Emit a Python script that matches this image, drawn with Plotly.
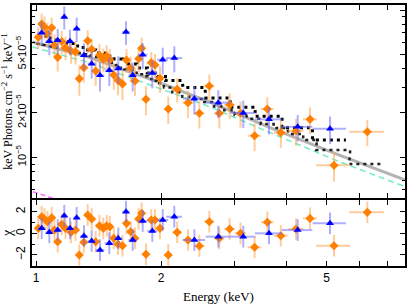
import numpy as np
import plotly.graph_objects as go
from plotly.subplots import make_subplots

# Spectrum data (flux in units of 1e-5 keV Photons cm^-2 s^-1 keV^-1)
orange_e = [1.0128, 1.0321, 1.0482, 1.0658, 1.0909, 1.1079, 1.1278, 1.1530, 1.1776, 1.2140,
            1.2447, 1.2712, 1.3032, 1.3317, 1.3615, 1.3920, 1.4216, 1.4518, 1.4794, 1.5050,
            1.5388, 1.5750, 1.6148, 1.6510, 1.6899, 1.7302, 1.7661, 1.7958, 1.8390, 1.8938,
            1.9330, 1.9873, 2.0808, 2.1861, 2.3218, 2.4717, 2.6121, 2.7609, 2.9235, 3.1049,
            3.3574, 3.6022, 3.8821, 4.2240, 4.5634, 5.2123, 6.2689]
orange_de = [0.0095, 0.0091, 0.0087, 0.0100, 0.0103, 0.0092, 0.0112, 0.0128, 0.0150, 0.0168,
             0.0138, 0.0141, 0.0152, 0.0148, 0.0151, 0.0154, 0.0150, 0.0137, 0.0131, 0.0150,
             0.0179, 0.0192, 0.0197, 0.0192, 0.0197, 0.0192, 0.0157, 0.0179, 0.0234, 0.0241,
             0.0236, 0.0385, 0.0484, 0.0581, 0.0720, 0.0726, 0.0724, 0.0795, 0.0858, 0.0980,
             0.1265, 0.1297, 0.1505, 0.1778, 0.1770, 0.49, 0.60]
orange_flux = [6.53, 8.04, 7.67, 6.93, 7.57, 5.79, 4.77, 6.11, 5.57, 5.27,
               5.21, 3.42, 4.06, 6.19, 5.41, 3.85, 4.95, 4.63, 4.87, 4.58,
               3.62, 3.33, 3.15, 4.58, 4.04, 3.30, 4.67, 5.50, 2.48, 4.39,
               4.23, 3.44, 2.13, 2.90, 2.35, 1.99, 3.05, 1.99, 2.27, 1.99,
               1.40, 2.13, 1.47, 1.51, 1.81, 0.882, 1.49]
orange_err = [1.1, 1.4, 1.35, 1.25, 1.3, 1.05, 0.95, 1.1, 1.0, 0.95,
              0.95, 0.8, 0.85, 1.1, 1.0, 0.8, 0.9, 0.85, 0.9, 0.85,
              0.75, 0.7, 0.7, 0.85, 0.8, 0.7, 0.9, 1.0, 0.55, 0.8,
              0.8, 0.7, 0.45, 0.55, 0.5, 0.42, 0.6, 0.42, 0.45, 0.4,
              0.3, 0.43, 0.31, 0.31, 0.37, 0.2, 0.3]
orange_model = [5.91, 5.85, 5.80, 5.74, 5.66, 5.62, 5.57, 5.50, 5.40, 5.28,
                5.19, 5.11, 5.01, 4.93, 4.87, 4.80, 4.72, 4.65, 4.58, 4.48,
                4.38, 4.23, 4.05, 3.96, 3.90, 3.75, 3.74, 3.67, 3.55, 3.40,
                3.31, 3.18, 2.98, 2.76, 2.58, 2.49, 2.37, 2.21, 2.09, 1.94,
                1.83, 1.68, 1.58, 1.44, 1.31, 1.12, 0.90]
orange_chi = [0.46, 1.53, 1.32, 1.07, 1.44, 0.3, -0.78, 0.83, 0.46, 0.09,
              0.3, -2.0, -0.83, 1.69, 1.32, -0.78, 0.7, 0.46, 0.7, 0.61,
              -0.46, -1.0, -1.15, 0.92, 0.15, -0.46, 1.32, 1.85, -1.94, 1.23,
              1.23, 0.46, -2.0, 0.09, -0.62, -1.17, 1.07, -0.46, 0.4, 0.0,
              -1.29, 1.02, -0.22, 0.4, 1.38, -1.15, 1.94]

blue_e = [1.0321, 1.0765, 1.1278, 1.1697, 1.2072, 1.2528, 1.3045, 1.3613, 1.4256, 1.5010,
          1.5777, 1.6464, 1.7087, 1.8062, 1.9049, 2.0178, 2.1517, 2.4044, 2.7458, 3.1530,
          3.6360, 4.2631, 5.0986]
blue_de = [0.0240, 0.0227, 0.0231, 0.0194, 0.0214, 0.0243, 0.0267, 0.0302, 0.0348, 0.0383,
           0.0367, 0.0328, 0.0398, 0.0490, 0.0528, 0.0615, 0.0954, 0.1465, 0.1856, 0.2201,
           0.274, 0.359, 0.469]
blue_flux = [7.01, 6.13, 6.23, 8.96, 6.13, 7.47, 4.93, 4.32, 3.60, 3.90,
             4.00, 7.09, 3.60, 4.97, 3.74, 4.60, 4.72, 2.50, 2.35, 2.00,
             1.81, 1.61, 1.56]
blue_err = [1.3, 1.2, 1.2, 1.6, 1.2, 1.4, 1.0, 0.9, 0.8, 0.85,
            0.85, 1.3, 0.8, 1.0, 0.8, 0.95, 0.95, 0.55, 0.5, 0.42,
            0.38, 0.33, 0.33]
blue_model = [6.66, 6.45, 6.26, 6.11, 5.92, 5.70, 5.57, 5.35, 5.11, 4.87,
              4.65, 4.51, 4.30, 4.04, 3.74, 3.54, 3.32, 2.98, 2.53, 2.19,
              1.90, 1.59, 1.31]
blue_chi = [0.46, 0.09, 0.3, 1.63, 0.46, 1.44, -0.25, -0.71, -1.54, -0.92,
            -0.46, 2.0, -0.62, 1.14, 0.21, 1.23, 1.53, -0.62, -0.31, -0.31,
            0.0, 0.3, 0.92]

# unfolded model curves
model_e = [0.981, 1.349, 1.880, 2.623, 3.656, 5.389, 7.75]
total_flux = [6.07, 4.76, 3.40, 2.37, 1.59, 1.03, 0.70]
comp_flux = [5.61, 4.37, 3.10, 2.20, 1.47, 0.93, 0.63]
soft_e = [0.983, 1.051, 1.13]
soft_flux = [0.584, 0.546, 0.513]

S = 1e-5


def steps(e, de, m):
    x, y = [], []
    for ei, di, mi in zip(e, de, m):
        x += [ei - di, ei + di]
        y += [mi * S, mi * S]
    return x, y


fig = make_subplots(rows=2, cols=1, shared_xaxes=True, vertical_spacing=0.008)

orange_bar = 'rgba(255,170,90,0.6)'
blue_bar = 'rgba(110,110,255,0.55)'

fig.add_trace(go.Scatter(x=model_e, y=np.array(total_flux) * S, mode='lines',
                         line=dict(color='#b4b4b4', width=3)), row=1, col=1)
fig.add_trace(go.Scatter(x=model_e, y=np.array(comp_flux) * S, mode='lines',
                         line=dict(color='#70ecc0', width=1.5, dash='6px,4px')), row=1, col=1)
fig.add_trace(go.Scatter(x=soft_e, y=np.array(soft_flux) * S, mode='lines',
                         line=dict(color='#ff70ff', width=1.5, dash='5px,3px')), row=1, col=1)

bx, by = steps(blue_e, blue_de, blue_model)
fig.add_trace(go.Scatter(x=bx, y=by, mode='lines',
                         line=dict(color='black', width=3, dash='3px,4px')), row=1, col=1)
ox, oy = steps(orange_e, orange_de, orange_model)
fig.add_trace(go.Scatter(x=ox, y=oy, mode='lines',
                         line=dict(color='#222222', width=2.5, dash='3px,4px')), row=1, col=1)

fig.add_trace(go.Scatter(
    x=orange_e, y=np.array(orange_flux) * S, mode='markers',
    marker=dict(symbol='diamond', size=7, color='#ff7f00'),
    error_y=dict(type='data', array=np.array(orange_err) * S, color=orange_bar, thickness=2, width=0),
    error_x=dict(type='data', array=orange_de, color=orange_bar, thickness=2, width=0)), row=1, col=1)
fig.add_trace(go.Scatter(
    x=blue_e, y=np.array(blue_flux) * S, mode='markers',
    marker=dict(symbol='triangle-up', size=7, color='#0000ff'),
    error_y=dict(type='data', array=np.array(blue_err) * S, color=blue_bar, thickness=2, width=0),
    error_x=dict(type='data', array=blue_de, color=blue_bar, thickness=2, width=0)), row=1, col=1)

# residuals
fig.add_hline(y=0, line=dict(color='#808080', width=1, dash='4px,3px'), row=2, col=1)
fig.add_trace(go.Scatter(
    x=orange_e, y=orange_chi, mode='markers',
    marker=dict(symbol='diamond', size=7, color='#ff7f00'),
    error_y=dict(type='constant', value=1, color=orange_bar, thickness=2, width=0),
    error_x=dict(type='data', array=orange_de, color=orange_bar, thickness=2, width=0)), row=2, col=1)
fig.add_trace(go.Scatter(
    x=blue_e, y=blue_chi, mode='markers',
    marker=dict(symbol='triangle-up', size=7, color='#0000ff'),
    error_y=dict(type='constant', value=1, color=blue_bar, thickness=2, width=0),
    error_x=dict(type='data', array=blue_de, color=blue_bar, thickness=2, width=0)), row=2, col=1)

axis_common = dict(showline=True, linewidth=2, linecolor='black', mirror='ticks',
                   ticks='inside', tickcolor='black', showgrid=False, zeroline=False,
                   automargin=False)
e_ticks = [1, 2, 3, 4, 5, 6, 7]

fig.update_xaxes(type='log', range=[-0.00962, 0.88787], tickvals=e_ticks, ticklen=5,
                 **axis_common)
fig.update_xaxes(showticklabels=False, row=1, col=1)
fig.update_xaxes(ticktext=['1', '2', '', '', '5', '', ''], showticklabels=True,
                 title=dict(text='Energy (keV)', font=dict(family='Liberation Serif', size=13),
                            standoff=8),
                 row=2, col=1)

fig.update_yaxes(type='log', range=[-5.2763, -3.96606], domain=[0.2605, 1],
                 tickvals=[1e-5, 2e-5, 5e-5, 1e-4],
                 ticktext=['10<sup>−5</sup>', '2×10<sup>−5</sup>', '5×10<sup>−5</sup>', '10<sup>−4</sup>'],
                 tickangle=-90, ticklen=5, tickfont=dict(size=11),
                 minor=dict(tickvals=[6e-6, 7e-6, 8e-6, 9e-6, 3e-5, 4e-5, 6e-5, 7e-5, 8e-5, 9e-5],
                            ticks='inside', ticklen=3, tickcolor='black'),
                 title=dict(text='keV Photons cm<sup>−2</sup> s<sup>−1</sup> keV<sup>−1</sup>',
                            font=dict(family='Liberation Serif', size=12)),
                 **axis_common, row=1, col=1)
fig.update_yaxes(range=[-3.02, 3.08], domain=[0, 0.2529],
                 tickvals=[-2, 0, 2], ticktext=['−2', '0', '2'], tickangle=-90, ticklen=5,
                 tickfont=dict(size=12),
                 minor=dict(tickvals=[-3, -1, 1, 3], ticks='inside', ticklen=3, tickcolor='black'),
                 title=dict(text='χ', font=dict(family='Liberation Serif', size=14)),
                 **axis_common, row=2, col=1)

fig.update_layout(width=407, height=304, margin=dict(l=32, r=2, t=5, b=38),
                  plot_bgcolor='white', paper_bgcolor='white', showlegend=False,
                  font=dict(family='Liberation Sans', size=12, color='black'))

fig.write_html("out.html", config={'displayModeBar': False},
               post_script="document.body.style.margin='0';")
